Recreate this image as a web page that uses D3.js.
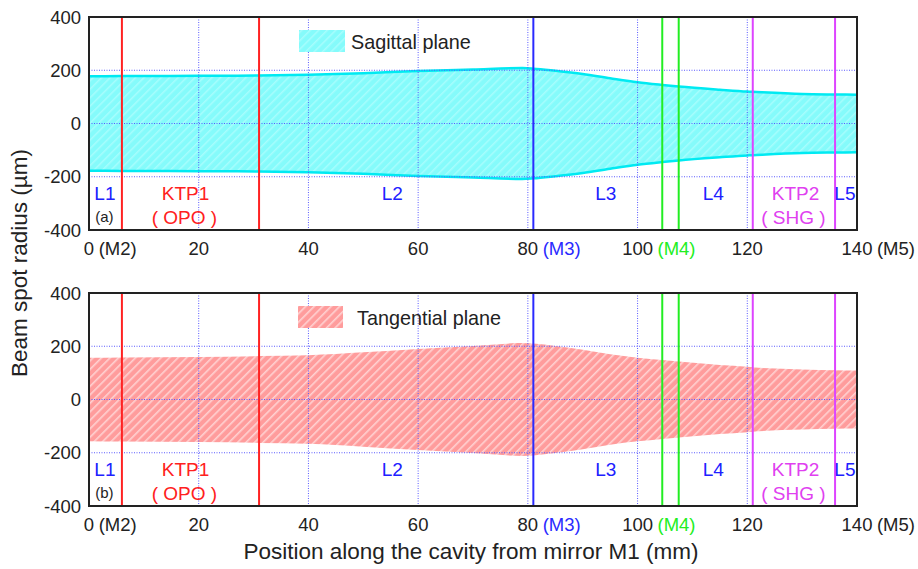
<!DOCTYPE html>
<html><head><meta charset="utf-8">
<script src="https://cdn.jsdelivr.net/npm/d3@7"></script>
<style>body{margin:0;background:#fff}svg{display:block;font-family:"Liberation Sans",Arial,sans-serif}</style>
</head><body><svg id="c" width="918" height="569"></svg>
<script>
// ---- data ----
const positions = [0, 6, 20, 31, 40, 50, 60, 70, 79, 81, 85, 90, 95, 100, 104.5, 107.5, 115, 120, 121, 130, 136, 140];
const sagittalRadius = [177, 178, 179, 180, 183, 189, 197, 203, 208, 206, 198, 186, 170, 155, 145, 139, 127, 120, 119, 111, 109, 108];
const tangentialRadius = [157, 158, 160, 163, 166, 177, 190, 201, 212, 210, 201, 187, 170, 157, 148, 143, 130, 123, 121, 113, 110, 109];
const xTicks = [0, 20, 40, 60, 80, 100, 120, 140];
const xTickSuffix = ["(M2)", "", "", "", "(M3)", "(M4)", "", "(M5)"];
const yTicks = [400, 200, 0, -200, -400];
const gridX = [20, 40, 60, 80, 100, 120];
const gridY = [200, 0, -200];
const componentLines = [6, 31, 81, 104.5, 107.5, 121, 136];
const regionLabels = [
  {x: 2.9, text: "L1", kind: "L"}, {x: 17.6, text: "KTP1", kind: "ktp1"},
  {x: 55.3, text: "L2", kind: "L"}, {x: 94.2, text: "L3", kind: "L"},
  {x: 113.8, text: "L4", kind: "L"}, {x: 128.8, text: "KTP2", kind: "ktp2"},
  {x: 137.8, text: "L5", kind: "L"}];
const subLabels = [{x: 17.4, text: "( OPO )", kind: "ktp1"}, {x: 128.4, text: "( SHG )", kind: "ktp2"}];

// ---- styles ----
const compColors = ["#ff2222", "#ff2222", "#2a2aff", "#22ee22", "#22ee22", "#dd44ff", "#dd44ff"];
const suffixColors = ["#222", "#222", "#222", "#222", "#2a2aff", "#22ee22", "#222", "#222"];
const kindColor = {L: "#2020ff", ktp1: "#ff2020", ktp2: "#e040f0"};

const svg = d3.select("#c");
const defs = svg.append("defs");
const p1 = defs.append("pattern").attr("id","hatchS").attr("patternUnits","userSpaceOnUse")
  .attr("width",6).attr("height",6).attr("patternTransform","rotate(45)");
p1.append("rect").attr("width",6).attr("height",6).attr("fill","#85fbfb");
p1.append("rect").attr("width",1.5).attr("height",6).attr("fill","#a8fdfd");
const p2 = defs.append("pattern").attr("id","hatchT").attr("patternUnits","userSpaceOnUse")
  .attr("width",6).attr("height",6).attr("patternTransform","rotate(45)");
p2.append("rect").attr("width",6).attr("height",6).attr("fill","#ff9c9c");
p2.append("rect").attr("width",1.6).attr("height",6).attr("fill","#ffd2d2");

const x = d3.scaleLinear().domain([0,140]).range([89,857]);

function panel(top, radius, fillId, edge, legendText, tag, legendX, legendW, textX) {
  const y = d3.scaleLinear().domain([-400,400]).range([top+213, top]);
  const g = svg.append("g");
  const data = positions.map((p,i)=>({p, r: radius[i]}));
  const area = d3.area().x(d=>x(d.p)).y0(d=>y(-d.r)).y1(d=>y(d.r)).curve(d3.curveMonotoneX);
  g.append("path").datum(data).attr("d", area).attr("fill", `url(#${fillId})`);
  if (edge) {
    const lu = d3.line().x(d=>x(d.p)).y(d=>y(d.r)).curve(d3.curveMonotoneX);
    const ll = d3.line().x(d=>x(d.p)).y(d=>y(-d.r)).curve(d3.curveMonotoneX);
    g.append("path").datum(data).attr("d", lu).attr("fill","none").attr("stroke",edge).attr("stroke-width",2.5);
    g.append("path").datum(data).attr("d", ll).attr("fill","none").attr("stroke",edge).attr("stroke-width",2.5);
  }
  // grid
  g.selectAll(".gx").data(gridX).join("line").attr("x1",d=>x(d)).attr("x2",d=>x(d))
    .attr("y1",y(400)).attr("y2",y(-400)).attr("stroke","#5a5aff").attr("stroke-width",1).attr("stroke-dasharray","1,1.5");
  g.selectAll(".gy").data(gridY).join("line").attr("y1",d=>y(d)).attr("y2",d=>y(d))
    .attr("x1",x(0)).attr("x2",x(140)).attr("stroke","#5a5aff").attr("stroke-width",1).attr("stroke-dasharray","1,1.5");
  // component lines
  g.selectAll(".cl").data(componentLines).join("line").attr("x1",d=>x(d)).attr("x2",d=>x(d))
    .attr("y1",y(400)).attr("y2",y(-400)).attr("stroke",(d,i)=>compColors[i]).attr("stroke-width",2);
  // frame
  g.append("rect").attr("x",x(0)).attr("y",y(400)).attr("width",x(140)-x(0)).attr("height",y(-400)-y(400))
    .attr("fill","none").attr("stroke","#222").attr("stroke-width",2);
  // y ticks
  g.selectAll(".yt").data(yTicks).join("text").attr("x",81).attr("y",d=>y(d)+6.5)
    .attr("text-anchor","end").attr("font-size",18.5).attr("fill","#222").text(d=>d);
  // x ticks
  const xt = g.selectAll(".xt").data(xTicks).join("g").attr("transform",d=>`translate(${x(d)},${top+238})`);
  xt.append("text").attr("text-anchor","middle").attr("font-size",18.5).attr("fill","#222").text(d=>d);
  xt.append("text").attr("x",d=> (String(d).length*5.15 + 4.5)).attr("font-size",18.5)
    .attr("fill",(d,i)=>suffixColors[i]).text((d,i)=>xTickSuffix[i]);
  // region labels
  g.selectAll(".rl").data(regionLabels).join("text").attr("x",d=>x(d.x)).attr("y",top+182.5)
    .attr("text-anchor","middle").attr("font-size",19).attr("fill",d=>kindColor[d.kind]).text(d=>d.text);
  g.selectAll(".sl").data(subLabels).join("text").attr("x",d=>x(d.x)).attr("y",top+206.5)
    .attr("text-anchor","middle").attr("font-size",19).attr("fill",d=>kindColor[d.kind]).text(d=>d.text);
  g.append("text").attr("x",x(2.8)).attr("y",top+205).attr("text-anchor","middle").attr("font-size",15).attr("fill","#222").text(tag);
  // legend
  g.append("rect").attr("x",legendX).attr("y",top+13).attr("width",legendW).attr("height",22).attr("fill",`url(#${fillId})`);
  g.append("text").attr("x",textX).attr("y",top+31.5).attr("font-size",19.8).attr("fill","#222").text(legendText);
}
panel(17, sagittalRadius, "hatchS", "#00eaf2", "Sagittal plane", "(a)", 299, 46, 351);
panel(293, tangentialRadius, "hatchT", null, "Tangential plane", "(b)", 298, 45, 357);

svg.append("text").attr("transform","translate(27,263) rotate(-90)").attr("text-anchor","middle")
  .attr("font-size",22.5).attr("fill","#222").text("Beam spot radius (µm)");
svg.append("text").attr("x",471).attr("y",559).attr("text-anchor","middle")
  .attr("font-size",22.5).attr("fill","#222").text("Position along the cavity from mirror M1 (mm)");
</script></body></html>
